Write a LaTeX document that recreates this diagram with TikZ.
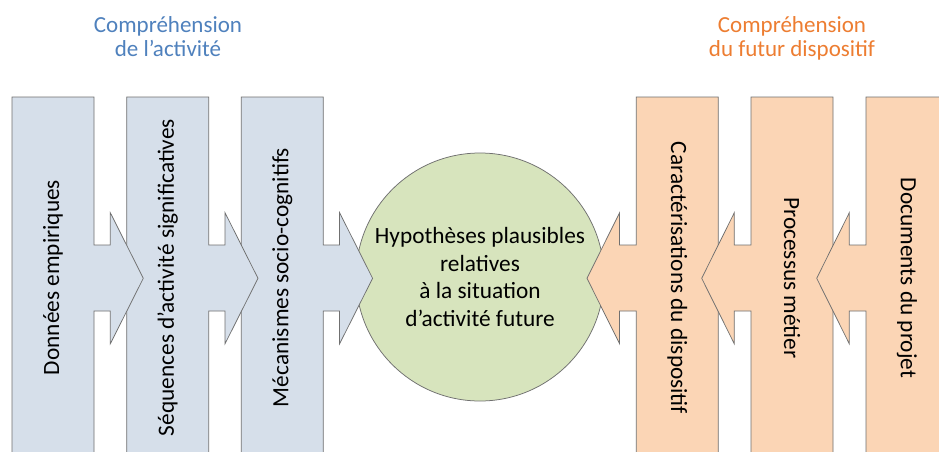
\documentclass[tikz,border=0pt]{standalone}
\usepackage{fontspec}
\setmainfont{Carlito}
\definecolor{blueF}{RGB}{214,223,234}
\definecolor{orangeF}{RGB}{251,213,181}
\definecolor{greenF}{RGB}{215,228,189}
\definecolor{lineC}{RGB}{112,112,112}
\definecolor{titleBlue}{RGB}{79,129,189}
\definecolor{titleOrange}{RGB}{237,125,49}
\tikzset{
  shapebox/.style={draw=lineC, line width=0.75pt, line join=miter},
  leftbox/.style={shapebox, fill=blueF},
  rightbox/.style={shapebox, fill=orangeF},
  coltext/.style={font=\fontsize{23.3}{28}\selectfont, inner sep=0pt, text=black},
  titletext/.style={font=\fontsize{23}{24}\selectfont, inner sep=0pt, align=center},
}
\newcommand\LeftShape[3]{%
  \begin{scope}[xshift=#2pt]
    \filldraw[leftbox] (0,97) -- (82,97) -- (82,245) -- (98.3,245) -- (98.3,212.7)
      -- (131.3,278.3) -- (98.3,343.8) -- (98.3,311) -- (82,311) -- (82,470)
      -- (0,470) -- cycle;
    \node[coltext, rotate=90] (#1) at (41,277.5) {#3};
  \end{scope}}
\newcommand\RightShape[3]{%
  \begin{scope}[xshift=#2pt]
    \filldraw[rightbox] (0,97) -- (82,97) -- (82,470) -- (0,470) -- (0,311)
      -- (-16.7,311) -- (-16.7,343.8) -- (-49.3,278.3) -- (-16.7,212.7)
      -- (-16.7,245) -- (0,245) -- cycle;
    \node[coltext, rotate=-90] (#1) at (41,278) {#3};
  \end{scope}}
\begin{document}
\begin{tikzpicture}[x=1pt,y=-1pt]
\useasboundingbox (0,0) rectangle (939,452);
\clip (0,0) rectangle (939,452);
\fill[white] (0,0) rectangle (939,452);
% titles
\node[titletext, text=titleBlue, anchor=base] (tleft) at (168,56.7) {Compréhension\\de l’activité};
\node[titletext, text=titleOrange, anchor=base] (tright) at (792,56.7) {Compréhension\\du futur dispositif};
% central circle
\node[circle, draw=lineC, line width=0.75pt, fill=greenF, minimum size=248pt,
      inner sep=0pt, align=center, font=\fontsize{23.3}{27.7}\selectfont] (hyp) at (480,277)
  {Hypothèses plausibles\\relatives\\à la situation\\d’activité future};
% left shapes (outer ones on top)
\LeftShape{mec}{241.3}{Mécanismes socio-cognitifs}
\LeftShape{seq}{126.7}{Séquences d’activité significatives}
\LeftShape{don}{12}{Données empiriques}
% right shapes (outer ones on top)
\RightShape{car}{636.3}{Caractérisations du dispositif}
\RightShape{pro}{751}{Processus métier}
\RightShape{doc}{866}{Documents du projet}
\end{tikzpicture}
\end{document}
